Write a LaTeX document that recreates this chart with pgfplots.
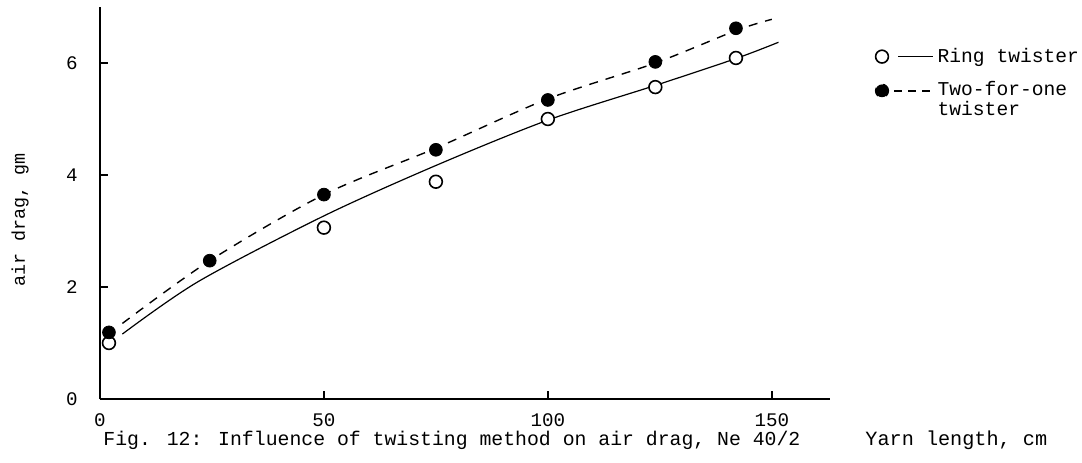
\documentclass[border=0pt]{standalone}
\usepackage{fontspec}
\setmainfont{Liberation Mono}
\usepackage{pgfplots}
\usepackage{pgfplotstable}
\pgfplotsset{compat=1.18}
\usetikzlibrary{calc}

% measured points
\pgfplotstableread{
x    y
2    1.00
50   3.06
75   3.88
100  5.00
124  5.57
142  6.09
}\ringpts
\pgfplotstableread{
x    y
2    1.19
24.5 2.47
50   3.65
75   4.45
100  5.34
124  6.02
142  6.62
}\tfopts
% hand-drawn curves, traced
\pgfplotstableread{
x     y
5     1.16
22    2.10
50    3.27
75    4.17
100   4.98
124   5.60
142   6.08
151.5 6.37
}\ringfit
\pgfplotstableread{
x     y
5     1.35
24.5  2.47
50    3.65
75    4.48
100   5.36
124   6.00
142   6.58
150   6.78
}\tfofit

\newcommand{\tickfont}{\fontsize{9.6}{10}\selectfont}

\begin{document}
\begin{tikzpicture}
\begin{axis}[
  name=ax,
  scale only axis,
  width=365pt, height=196pt,
  xmin=0, xmax=163, ymin=0, ymax=7,
  axis lines=left,
  x axis line style={-}, y axis line style={-},
  axis line style={line width=0.8pt},
  xtick={0,50,100,150}, ytick={0,2,4,6},
  tick align=inside,
  major tick length=4pt,
  tick style={line width=0.8pt, black},
  /pgf/number format/assume math mode=true,
  xticklabel style={font=\tickfont, inner sep=0pt, yshift=-7pt},
  yticklabel style={font=\tickfont, inner sep=0pt, xshift=-11pt},
  ylabel={air drag, gm},
  every axis y label/.style={at={(rel axis cs:0,0.457)}, xshift=-40pt, rotate=90, anchor=center, font=\fontsize{9.2}{10}\selectfont},
  xlabel={Yarn length, cm},
  every axis x label/.style={at={(rel axis cs:1,0)}, anchor=west, xshift=17.5pt, yshift=-20.5pt, inner sep=0pt, font=\fontsize{10.1}{11}\selectfont},
  legend cell align=left,
  legend style={at={(rel axis cs:1,1)}, anchor=north west, xshift=22.4pt, yshift=-19.5pt,
    draw=none, fill=none, inner sep=0pt, outer sep=0pt, row sep=6pt, column sep=0pt,
    font=\fontsize{9.8}{10}\selectfont, nodes={inner sep=1pt, align=left}},
]
\addplot[black, line width=0.6pt, smooth,
  legend image code/.code={
    \draw[black, line width=0.6pt] (8pt,0pt) -- (25.5pt,0pt);
    \draw[black, line width=0.8pt, fill=white] (0pt,0pt) circle (3.2pt);}]
  table {\ringfit};
\addlegendentry{Ring twister}
\addplot[black, line width=0.7pt, smooth, dash pattern=on 4.5pt off 4pt,
  legend image code/.code={
    \draw[black, line width=0.7pt, dash pattern=on 4pt off 3pt] (6pt,4.5pt) -- (26.5pt,4.5pt);
    \fill[black] (0pt,4.5pt) circle (3.2pt);}]
  table {\tfofit};
\addlegendentry{Two-for-one\\twister}
\addplot[forget plot, only marks, mark=*, mark size=3.2pt,
  mark options={draw=black, fill=white, line width=0.8pt}] table {\ringpts};
\addplot[forget plot, only marks, mark=*, mark size=3.2pt,
  mark options={draw=black, fill=black}] table {\tfopts};
\end{axis}
\node[anchor=west, inner sep=0pt, font=\fontsize{9.9}{11}\selectfont]
  at ($(ax.south west)+(1.5pt,-20.5pt)$)
  {Fig. 12: Influence of twisting method on air drag, Ne 40/2};
\pgfresetboundingbox
\path ($(ax.south west)+(-50pt,-31.5pt)$) rectangle ($(ax.north east)+(126pt,3.5pt)$);
\end{tikzpicture}
\end{document}
